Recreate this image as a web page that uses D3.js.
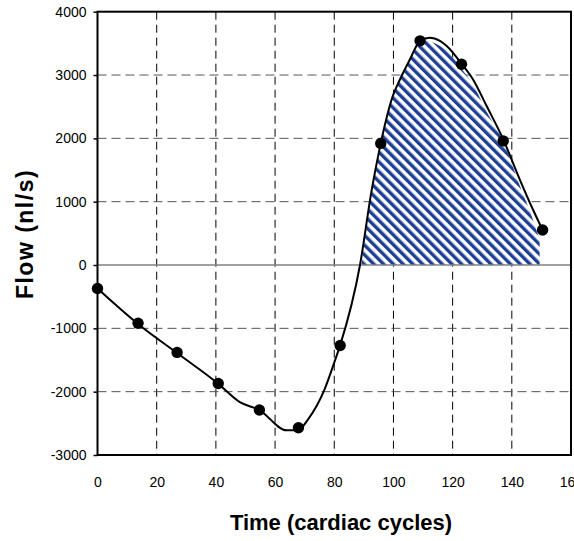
<!DOCTYPE html>
<html>
<head>
<meta charset="utf-8">
<script src="https://cdn.jsdelivr.net/npm/d3@7"></script>
<style>
  body { margin: 0; background: white; }
  svg { display: block; }
</style>
</head>
<body>
<script>
// measured points (dots)
let pointTime = [0, 13.7, 26.9, 40.8, 54.7, 67.9, 82, 95.7, 109, 123, 137.1, 150.4]
let pointFlow = [-370, -920, -1380, -1870, -2290, -2570, -1270, 1920, 3540, 3170, 1960, 553]

// fitted curve
let curveTime = [0, 13.7, 26.9, 40.8, 48.1, 54.7, 63.9, 67.7, 71.1, 76.8, 80, 81.9, 88.7, 92.6, 95.3, 99.8, 102.2, 105.6, 109, 112.3, 115.7, 118, 123, 126.9, 131.5, 137.1, 142.7, 147.1, 150.4]
let curveFlow = [-370, -930, -1390, -1875, -2165, -2290, -2610, -2610, -2440, -1955, -1540, -1280, 0, 1170, 1830, 2670, 2930, 3250, 3540, 3590, 3540, 3460, 3180, 2930, 2510, 1985, 1350, 880, 553]

// hatched area outline (positive flow)
let areaTime = [89.2, 92.6, 95.3, 99.8, 102.2, 105.6, 109, 111.5, 114, 118, 123, 126.9, 131.5, 137.1, 142.7, 147.1, 149.4]
let areaFlow = [0, 1120, 1800, 2670, 2930, 3250, 3500, 3540, 3500, 3380, 3100, 2850, 2420, 1960, 1250, 720, 400]

let xTicks = [0, 20, 40, 60, 80, 100, 120, 140, 160]
let yTicks = [-3000, -2000, -1000, 0, 1000, 2000, 3000, 4000]

let width = 574, height = 541
let plotLeft = 97.5, plotRight = 571, plotTop = 11.7, plotBottom = 455
let font = "Arial, 'Liberation Sans', sans-serif"

let svg = d3.select("body").append("svg")
            .attr("width", width)
            .attr("height", height)

svg.append('rect')
   .attr('width', '100%')
   .attr('height', '100%')
   .attr('fill', 'white')

let x = d3.scaleLinear().domain([0, 160]).range([plotLeft, plotRight])
let y = d3.scaleLinear().domain([-3000, 4000]).range([plotBottom, plotTop])

// hatch pattern
let defs = svg.append('defs')
let pattern = defs.append('pattern')
                  .attr('id', 'hatch')
                  .attr('patternUnits', 'userSpaceOnUse')
                  .attr('width', 6.9)
                  .attr('height', 6.9)
                  .attr('patternTransform', 'rotate(-45)')
pattern.append('rect')
       .attr('width', 6.9)
       .attr('height', 6.9)
       .attr('fill', 'white')
pattern.append('rect')
       .attr('width', 3.4)
       .attr('height', 6.9)
       .attr('fill', '#1d3f96')

// grid
let grid = svg.append('g')
grid.selectAll('line.v')
    .data(xTicks.filter(d => d > 0 && d < 160))
    .join('line')
    .attr('class', 'v')
    .attr('x1', d => x(d)).attr('x2', d => x(d))
    .attr('y1', plotTop).attr('y2', plotBottom)
    .attr('stroke', '#000')
    .attr('stroke-width', 1)
    .attr('stroke-dasharray', '8,5')

grid.selectAll('line.h')
    .data(yTicks.filter(d => d != 0 && d > -3000 && d < 4000))
    .join('line')
    .attr('class', 'h')
    .attr('x1', plotLeft).attr('x2', plotRight)
    .attr('y1', d => y(d)).attr('y2', d => y(d))
    .attr('stroke', '#555')
    .attr('stroke-width', 1)
    .attr('stroke-dasharray', '9,5')

// hatched area
let areaData = areaTime.map((t, i) => [t, areaFlow[i]])
let area = d3.area()
             .x(d => x(d[0]))
             .y0(y(0))
             .y1(d => y(d[1]))
             .curve(d3.curveMonotoneX)
svg.append('path')
   .datum(areaData)
   .attr('d', area)
   .attr('fill', 'url(#hatch)')

// zero line
svg.append('line')
   .attr('x1', plotLeft).attr('x2', plotRight)
   .attr('y1', y(0)).attr('y2', y(0))
   .attr('stroke', '#808080')
   .attr('stroke-width', 1.5)

// curve
let curveData = curveTime.map((t, i) => [t, curveFlow[i]])
let line = d3.line()
             .x(d => x(d[0]))
             .y(d => y(d[1]))
             .curve(d3.curveMonotoneX)
svg.append('path')
   .datum(curveData)
   .attr('d', line)
   .attr('fill', 'none')
   .attr('stroke', '#000')
   .attr('stroke-width', 2)

// dots
svg.append('g')
   .selectAll('circle')
   .data(pointTime.map((t, i) => [t, pointFlow[i]]))
   .join('circle')
   .attr('cx', d => x(d[0]))
   .attr('cy', d => y(d[1]))
   .attr('r', 5.7)
   .attr('fill', '#000')

// frame
svg.append('rect')
   .attr('x', plotLeft)
   .attr('y', plotTop)
   .attr('width', plotRight - plotLeft)
   .attr('height', plotBottom - plotTop)
   .attr('fill', 'none')
   .attr('stroke', '#000')
   .attr('stroke-width', 2)

// axes
let yAxis = svg.append('g')
               .attr('transform', `translate(${plotLeft},0)`)
               .call(d3.axisLeft(y).tickValues(yTicks).tickSize(4).tickPadding(7).tickFormat(d => String(d)))
yAxis.select('.domain').remove()
yAxis.selectAll('line').attr('stroke', '#000').attr('stroke-width', 1.5)
yAxis.selectAll('text')
     .attr('font-family', font)
     .attr('font-size', '14px')
     .attr('fill', '#000')

let xAxis = svg.append('g')
               .attr('transform', `translate(0,${plotBottom})`)
               .call(d3.axisBottom(x).tickValues(xTicks).tickSize(0).tickPadding(22))
xAxis.select('.domain').remove()
xAxis.selectAll('text')
     .attr('font-family', font)
     .attr('font-size', '14px')
     .attr('fill', '#000')

// titles
svg.append('text')
   .attr('x', 341)
   .attr('y', 530)
   .attr('text-anchor', 'middle')
   .attr('font-family', font)
   .attr('font-weight', 'bold')
   .attr('font-size', '22px')
   .text('Time (cardiac cycles)')

svg.append('text')
   .attr('transform', 'translate(33,234) rotate(-90)')
   .attr('text-anchor', 'middle')
   .attr('font-family', font)
   .attr('font-weight', 'bold')
   .attr('font-size', '23px')
   .attr('letter-spacing', '1.5px')
   .text('Flow (nl/s)')
</script>
</body>
</html>
